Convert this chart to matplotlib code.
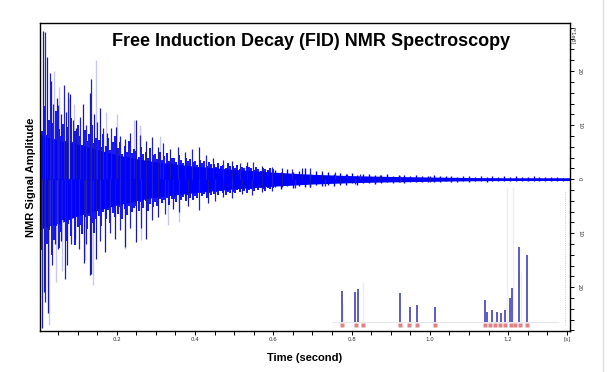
import matplotlib
matplotlib.use("Agg")
import matplotlib.pyplot as plt
from matplotlib.lines import Line2D

# dense core of the FID (x1e3)
core_t = [0.0, 0.02, 0.06, 0.10, 0.15, 0.20, 0.25, 0.30, 0.40, 0.50, 0.60, 0.70, 0.80, 0.90, 1.00, 1.10, 1.20, 1.36]
core_hi = [8.5, 7.8, 7.0, 6.5, 5.5, 4.5, 3.8, 3.2, 2.4, 1.8, 1.3, 0.9, 0.65, 0.5, 0.4, 0.3, 0.25, 0.25]
core_lo = [-9.5, -8.8, -8.0, -6.8, -5.8, -4.8, -4.0, -3.3, -2.5, -1.8, -1.3, -0.9, -0.65, -0.5, -0.4, -0.3, -0.25, -0.25]

# oscillation body, 0 - 0.6 s
mid_t = [0.004, 0.010, 0.016, 0.022, 0.028, 0.034, 0.040, 0.046, 0.052,
         0.058, 0.064, 0.070, 0.076, 0.082, 0.088, 0.094, 0.100,
         0.106, 0.112, 0.118, 0.124, 0.130, 0.136, 0.142, 0.148,
         0.154, 0.160, 0.166, 0.172, 0.178, 0.184, 0.190, 0.196,
         0.202, 0.208, 0.214, 0.220, 0.226, 0.232, 0.238, 0.244,
         0.250, 0.256, 0.262, 0.268, 0.274, 0.280, 0.286, 0.292,
         0.298, 0.304, 0.310, 0.316, 0.322, 0.328, 0.334, 0.340,
         0.346, 0.352, 0.358, 0.364, 0.370, 0.376, 0.382, 0.388, 0.394,
         0.400, 0.406, 0.412, 0.418, 0.424, 0.430, 0.436, 0.442,
         0.448, 0.454, 0.460, 0.466, 0.472, 0.478, 0.484, 0.490,
         0.496, 0.502, 0.508, 0.514, 0.520, 0.526, 0.532, 0.538,
         0.544, 0.550, 0.556, 0.562, 0.568, 0.574, 0.580, 0.586, 0.592, 0.598]
mid_hi = [12.1, 9.0, 13.5, 8.2, 11.0, 10.4, 7.5, 12.6, 9.3,
          8.0, 10.2, 7.1, 9.6, 11.3, 6.8, 8.9, 10.0,
          7.9, 6.4, 9.1, 7.0, 8.3, 10.1, 6.6, 7.7,
          7.2, 5.9, 8.4, 6.1, 7.6, 5.4, 6.9, 8.0,
          5.8, 6.9, 4.7, 6.2, 5.1, 7.0, 4.9, 5.6,
          5.3, 4.1, 6.0, 4.6, 5.0, 3.9, 5.7, 4.4,
          4.6, 3.8, 5.1, 3.5, 4.2, 4.8, 3.3, 4.0,
          3.9, 3.1, 4.4, 3.6, 2.9, 4.0, 3.4, 3.8, 3.2,
          3.4, 2.7, 3.6, 2.9, 3.3, 2.5, 3.1, 2.8,
          2.8, 2.3, 3.0, 2.5, 2.7, 2.1, 2.9, 2.4,
          2.5, 2.0, 2.6, 1.9, 2.3, 2.1, 2.4, 2.2,
          2.0, 1.7, 2.2, 1.8, 1.6, 2.1, 1.9, 1.7, 2.0, 1.8]
mid_lo = [-10.5, -13.2, -8.8, -12.0, -9.4, -14.1, -11.2, -8.6, -12.8,
          -9.8, -7.6, -11.4, -8.3, -10.6, -7.2, -12.1, -8.8,
          -8.5, -10.2, -7.0, -9.3, -6.9, -8.1, -9.9, -7.4,
          -6.8, -8.6, -6.0, -7.4, -5.7, -8.1, -6.3, -7.0,
          -6.4, -5.2, -7.3, -5.5, -6.6, -4.9, -6.0, -5.3,
          -4.9, -5.8, -4.3, -5.4, -4.0, -5.9, -4.6, -5.1,
          -4.3, -4.9, -3.6, -4.5, -3.9, -3.4, -4.7, -3.7,
          -3.6, -4.2, -3.0, -3.8, -3.3, -4.1, -2.9, -3.5, -3.9,
          -3.1, -3.5, -2.6, -3.2, -2.8, -3.4, -2.5, -3.0,
          -2.7, -2.4, -3.0, -2.2, -2.6, -2.9, -2.3, -2.5,
          -2.3, -2.6, -2.0, -2.4, -1.9, -2.2, -2.5, -2.0,
          -1.9, -2.1, -1.7, -2.0, -1.6, -1.9, -2.2, -1.7, -1.8, -1.6]

# decaying tail, 0.6 - 1.35 s
tail_t = [0.605, 0.620, 0.635, 0.650, 0.665, 0.680, 0.695, 0.710, 0.725, 0.740,
          0.755, 0.770, 0.785, 0.800, 0.815, 0.830, 0.845, 0.860, 0.875, 0.890,
          0.905, 0.920, 0.935, 0.950, 0.965, 0.980, 0.995, 1.010, 1.025, 1.040,
          1.055, 1.070, 1.085, 1.100, 1.115, 1.130, 1.145, 1.160, 1.175, 1.190,
          1.205, 1.220, 1.235, 1.250, 1.265, 1.280, 1.295, 1.310, 1.325, 1.340]
tail_hi = [1.7, 1.4, 1.9, 1.3, 1.6, 2.0, 1.2, 1.5, 1.1, 1.3,
           1.0, 1.2, 0.9, 1.1, 0.8, 1.0, 0.9, 0.7, 0.8, 0.9,
           0.6, 0.8, 0.7, 0.6, 0.7, 0.5, 0.6, 0.7, 0.5, 0.6,
           0.5, 0.4, 0.6, 0.5, 0.4, 0.5, 0.4, 0.5, 0.4, 0.5,
           0.4, 0.5, 0.4, 0.4, 0.5, 0.4, 0.4, 0.4, 0.4, 0.3]
tail_lo = [-1.5, -1.8, -1.2, -1.6, -1.3, -1.4, -1.5, -1.1, -1.3, -1.0,
           -1.2, -0.9, -1.0, -0.8, -1.0, -0.8, -0.7, -0.9, -0.7, -0.6,
           -0.8, -0.6, -0.7, -0.5, -0.6, -0.6, -0.5, -0.6, -0.5, -0.4,
           -0.5, -0.5, -0.4, -0.5, -0.4, -0.4, -0.5, -0.4, -0.4, -0.4,
           -0.4, -0.3, -0.4, -0.4, -0.3, -0.4, -0.3, -0.3, -0.3, -0.3]

# tallest individual spikes
up_t = [0.012, 0.016, 0.023, 0.029, 0.033, 0.037, 0.048, 0.050, 0.058, 0.065, 0.070, 0.076, 0.081,
        0.088, 0.096, 0.106, 0.114, 0.122, 0.131, 0.135, 0.142, 0.150, 0.157, 0.165, 0.175, 0.185,
        0.198, 0.208, 0.221, 0.234, 0.249, 0.260, 0.275, 0.290, 0.305, 0.318, 0.336, 0.356, 0.374,
        0.392, 0.410, 0.428, 0.446, 0.472, 0.494, 0.515, 0.533, 0.548, 0.571, 0.597, 0.622, 0.648,
        0.673, 0.694, 0.724, 0.757, 0.788, 0.821, 0.872, 0.923, 1.000]
up_v = [27.4, 27.2, 22.6, 19.6, 18.2, 14.0, 15.1, 13.7, 12.0, 17.4, 12.5, 16.2, 15.7,
        11.0, 9.5, 11.5, 14.0, 10.0, 15.9, 18.6, 12.0, 10.5, 13.1, 9.5, 8.5, 9.5,
        9.7, 8.0, 7.5, 8.5, 10.9, 8.1, 7.0, 7.8, 6.0, 6.7, 5.5, 6.0, 5.0,
        5.5, 5.9, 4.5, 4.0, 3.5, 3.3, 3.0, 3.2, 3.1, 2.5, 2.2, 2.0, 1.8,
        2.0, 2.0, 1.5, 1.3, 1.0, 0.9, 0.7, 0.6, 0.5]
down_t = [0.010, 0.014, 0.016, 0.025, 0.035, 0.042, 0.050, 0.058, 0.067, 0.073, 0.083, 0.093, 0.104,
          0.116, 0.122, 0.131, 0.135, 0.148, 0.157, 0.169, 0.183, 0.196, 0.208, 0.221, 0.234, 0.250,
          0.262, 0.275, 0.290, 0.305, 0.323, 0.344, 0.359, 0.382, 0.410, 0.433, 0.451, 0.472, 0.494,
          0.520, 0.545, 0.571, 0.597, 0.622, 0.655, 0.694, 0.732, 0.770, 0.808, 0.860, 0.923, 1.000]
down_v = [-27.6, -20.9, -22.8, -24.8, -15.9, -12.0, -13.0, -11.5, -18.5, -15.9, -12.0, -11.0, -13.0,
          -15.6, -12.0, -17.8, -17.6, -14.7, -11.5, -13.5, -10.0, -11.0, -9.5, -12.6, -9.0, -11.6,
          -9.0, -11.0, -7.6, -7.0, -6.5, -5.5, -6.0, -5.0, -5.7, -4.5, -4.0, -3.3, -3.5,
          -2.8, -3.0, -2.4, -2.2, -1.5, -1.7, -1.5, -1.3, -1.0, -0.9, -0.7, -0.6, -0.5]

# faint spikes
faint_t = [0.026, 0.040, 0.045, 0.052, 0.060, 0.078, 0.090, 0.118, 0.140, 0.148, 0.172, 0.200,
           0.220, 0.245, 0.260, 0.262, 0.310, 0.330, 0.360]
faint_v = [-27.0, 20.0, -19.0, 17.0, -17.0, 15.0, 14.0, -15.0, -19.5, 22.0, 12.5, 12.0,
           -13.0, 11.0, 10.0, -11.3, 8.0, -8.5, -8.0]

# small peaks near the bottom right
peak_t = [0.775, 0.810, 0.816, 0.924, 0.949, 0.966, 1.013, 1.141, 1.147, 1.160, 1.171,
          1.183, 1.192, 1.205, 1.209, 1.228, 1.247]
peak_v = [-20.7, -20.9, -20.4, -21.0, -23.6, -23.2, -23.6, -22.4, -24.5, -24.3, -24.5,
          -24.7, -24.3, -22.0, -20.2, -12.5, -14.1]
faint_peak_t = [0.779, 0.830, 1.197, 1.212, 1.233]
faint_peak_v = [-23.0, -19.0, -1.5, -1.5, -17.2]
mark_t = [0.775, 0.812, 0.830, 0.924, 0.947, 0.966, 1.013, 1.141, 1.154, 1.167, 1.179,
          1.192, 1.206, 1.217, 1.230, 1.247]
peak_base = -26.4
mark_level = -27.0

xticks = [0.2, 0.4, 0.6, 0.8, 1.0, 1.2, 1.35]
xtick_labels = ["0.2", "0.4", "0.6", "0.8", "1.0", "1.2", "[s]"]
yticks = [-20, -10, 0, 10, 20]
ytick_labels = ["20", "10", "0", "10", "20"]

fig = plt.figure(figsize=(6.08, 3.72), dpi=100)
ax = fig.add_axes([40 / 608, 1 - 331 / 372, 530 / 608, 308 / 372])

ax.vlines(faint_t, 0, faint_v, colors="#c8c8f6", lw=1.0)
ax.fill_between(core_t, core_lo, core_hi, color="#0000ff", lw=0)
ax.axhline(0, color="#0000ff", lw=1.0)
ax.vlines(mid_t, mid_lo, mid_hi, colors="#0000ff", lw=1.3)
ax.vlines(tail_t, tail_lo, tail_hi, colors="#0000ff", lw=1.0)
ax.vlines(up_t[::2], 0, up_v[::2], colors="#1a1aa0", lw=0.9)
ax.vlines(up_t[1::2], 0, up_v[1::2], colors="#2020d0", lw=0.9)
ax.vlines(down_t[::2], 0, down_v[::2], colors="#2020d0", lw=0.9)
ax.vlines(down_t[1::2], 0, down_v[1::2], colors="#1a1aa0", lw=0.9)

# bottom-right peaks
ax.hlines(peak_base, 0.75, 1.33, colors="#e6e6f0", lw=0.8)
ax.vlines(faint_peak_t, peak_base, faint_peak_v, colors="#ececfa", lw=1.0)
ax.vlines(peak_t, peak_base, peak_v, colors="#3030b0", lw=1.1)
ax.plot(mark_t, [mark_level] * len(mark_t), "s", ms=3.2, color="#d87070", mec="none", alpha=0.85)
ax.vlines([1.345], -27, -2, colors="#bbbbbb", lw=0.6, linestyles=":")

ax.set_xlim(0.004, 1.358)
ax.set_ylim(-28.1, 28.9)

for s in ax.spines.values():
    s.set_color("black")
    s.set_linewidth(1.0)

ax.set_xticks([i * 0.05 for i in range(1, 28)], minor=True)
ax.set_xticks(xticks)
ax.set_xticklabels(xtick_labels, fontsize=4, color="#333333")
ax.tick_params(axis="x", which="both", direction="out", length=3, width=0.7, pad=1)

ax.yaxis.tick_right()
ax.set_yticks(range(-28, 29, 2), minor=True)
ax.set_yticks(yticks)
ax.set_yticklabels(ytick_labels, fontsize=4, color="#333333", rotation=270, va="center")
ax.tick_params(axis="y", which="both", direction="out", length=3, width=0.7, pad=2)
ax.text(1.0, 26.6, "[*1e3]", transform=ax.get_yaxis_transform(), fontsize=4, color="#333333",
        rotation=270, va="center", ha="left")

ax.text(0.511, 0.94, "Free Induction Decay (FID) NMR Spectroscopy", transform=ax.transAxes,
        ha="center", va="center", fontsize=13, fontweight="bold", family="Liberation Sans")
ax.set_xlabel("Time (second)", fontsize=8, fontweight="bold", family="Liberation Sans", labelpad=8)
ax.set_ylabel("NMR Signal Amplitude", fontsize=8, fontweight="bold", family="Liberation Sans", labelpad=3)

fig.add_artist(Line2D([603 / 608, 603 / 608], [0, 1], color="#dddddd", lw=1))

fig.savefig("out.png", dpi=100)
